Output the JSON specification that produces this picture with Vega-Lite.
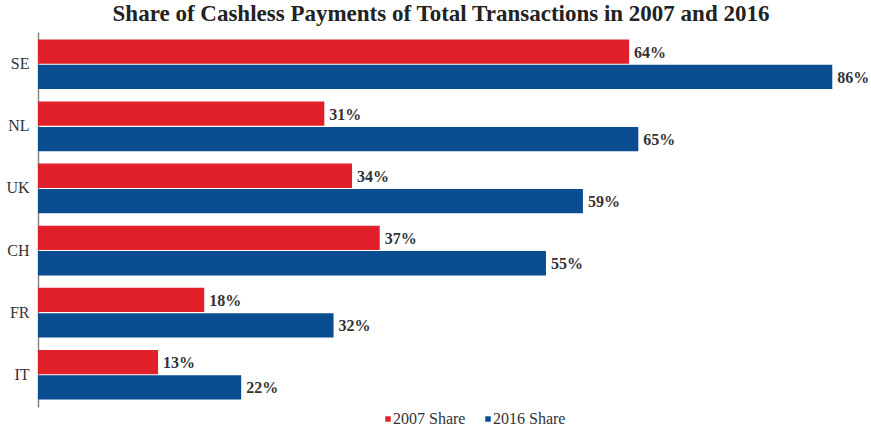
{
  "$schema": "https://vega.github.io/schema/vega-lite/v6.json",
  "width": 822,
  "height": 375,
  "autosize": {"type": "none"},
  "padding": {"left": 38, "top": 32, "right": 11, "bottom": 20},
  "background": "white",
  "title": {
    "text": "Share of Cashless Payments of Total Transactions in 2007 and 2016",
    "font": "Liberation Serif",
    "fontSize": 23,
    "fontWeight": "bold",
    "color": "#222222",
    "anchor": "middle",
    "offset": 6,
    "dx": -8
  },
  "data": {
    "values": [
      {"country": "SE", "series": "2007 Share", "value": 0.64},
      {"country": "SE", "series": "2016 Share", "value": 0.86},
      {"country": "NL", "series": "2007 Share", "value": 0.31},
      {"country": "NL", "series": "2016 Share", "value": 0.65},
      {"country": "UK", "series": "2007 Share", "value": 0.34},
      {"country": "UK", "series": "2016 Share", "value": 0.59},
      {"country": "CH", "series": "2007 Share", "value": 0.37},
      {"country": "CH", "series": "2016 Share", "value": 0.55},
      {"country": "FR", "series": "2007 Share", "value": 0.18},
      {"country": "FR", "series": "2016 Share", "value": 0.32},
      {"country": "IT", "series": "2007 Share", "value": 0.13},
      {"country": "IT", "series": "2016 Share", "value": 0.22}
    ]
  },
  "encoding": {
    "y": {
      "field": "country",
      "type": "nominal",
      "sort": ["SE", "NL", "UK", "CH", "FR", "IT"],
      "scale": {"paddingInner": 0.2, "paddingOuter": 0.12},
      "axis": {
        "title": null,
        "ticks": false,
        "labelFont": "Liberation Serif",
        "labelFontSize": 16,
        "labelColor": "#333333",
        "labelPadding": 9,
        "labelBaseline": "middle",
        "domainColor": "#888888",
        "domainWidth": 1.5
      }
    },
    "yOffset": {
      "field": "series",
      "type": "nominal",
      "scale": {"paddingInner": 0.04}
    },
    "x": {
      "field": "value",
      "type": "quantitative",
      "scale": {"domain": [0, 0.89]},
      "axis": null
    }
  },
  "layer": [
    {
      "mark": {"type": "bar"},
      "encoding": {
        "color": {
          "field": "series",
          "type": "nominal",
          "scale": {"domain": ["2007 Share", "2016 Share"], "range": ["#e1202a", "#0a4d91"]},
          "legend": {
            "title": null,
            "orient": "none",
            "legendX": 342,
            "legendY": 379,
            "direction": "horizontal",
            "symbolType": "square",
            "symbolSize": 30,
            "symbolStrokeWidth": 0,
            "labelFont": "Liberation Serif",
            "labelFontSize": 16,
            "labelColor": "#333333",
            "labelOffset": -3,
            "columnPadding": 14
          }
        }
      }
    },
    {
      "mark": {
        "type": "text",
        "align": "left",
        "baseline": "middle",
        "dx": 5,
        "dy": 1,
        "font": "Liberation Serif",
        "fontSize": 16,
        "fontWeight": "bold",
        "color": "#333333"
      },
      "encoding": {
        "text": {"field": "value", "type": "quantitative", "format": ".0%"},
        "detail": {"field": "series"}
      }
    }
  ],
  "config": {"view": {"stroke": null}, "font": "Liberation Serif"}
}
